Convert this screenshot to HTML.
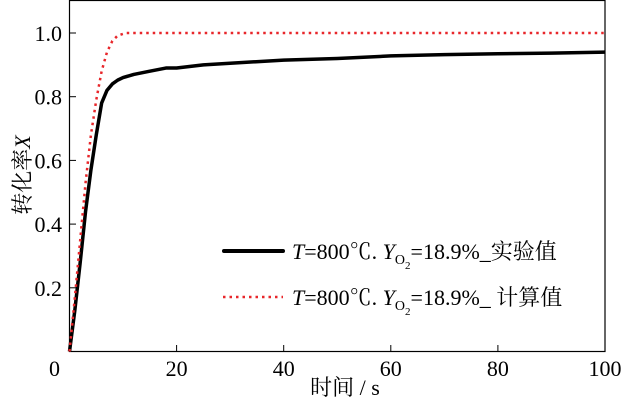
<!DOCTYPE html>
<html><head><meta charset="utf-8"><style>
body{margin:0;background:#fff}
svg, svg text{font-family:"Liberation Serif","Noto Serif CJK SC",serif}
</style></head><body>
<svg width="622" height="402">
<rect x="69.5" y="0.5" width="535.5" height="351" fill="none" stroke="#000" stroke-width="1.2"/>
<g id="ticks"></g>
<g id="series"></g>
<text x="0" y="0" transform="translate(30,175) rotate(-90)" text-anchor="middle" font-size="22" font-family="Liberation Serif, Noto Serif CJK SC, serif">转化率<tspan font-style="italic">X</tspan></text>
<text x="345" y="395" text-anchor="middle" font-size="22" font-family="Liberation Serif, Noto Serif CJK SC, serif">时间 / s</text>
<g font-family="Liberation Serif, Noto Serif CJK SC, serif">
<line x1="224" y1="251" x2="283" y2="251" stroke="#000" stroke-width="4" stroke-linecap="round"/>
<text x="292" y="259" font-size="22"><tspan font-style="italic">T</tspan>=800℃. <tspan font-style="italic">Y</tspan><tspan font-size="14" dy="5">O</tspan><tspan font-size="11" dy="5">2</tspan><tspan dy="-10">=18.9%_实验值</tspan></text>
<line x1="223" y1="297" x2="283" y2="297" stroke="#e8262a" stroke-width="2.5" stroke-dasharray="2.5,4"/>
<text x="292" y="305" font-size="22"><tspan font-style="italic">T</tspan>=800℃. <tspan font-style="italic">Y</tspan><tspan font-size="14" dy="5">O</tspan><tspan font-size="11" dy="5">2</tspan><tspan dy="-10">=18.9%_ 计算值</tspan></text>
</g>
</svg>
<script>
const xTicks=[0,20,40,60,80,100];
const yTicks=[0.2,0.4,0.6,0.8,1.0];
const expT=[0,1,2,3,4,5,6,7,8,9,10,12,15,18,20,25,30,40,50,60,70,80,90,100];
const expX=[0,0.13,0.28,0.44,0.57,0.68,0.78,0.82,0.84,0.852,0.86,0.87,0.88,0.89,0.89,0.9,0.905,0.915,0.92,0.928,0.932,0.935,0.937,0.94];
const calT=[0,1,2,3,4,5,6,7,8,9,10.5,12,100];
const calX=[0,0.17,0.35,0.53,0.68,0.79,0.88,0.94,0.975,0.992,1.0,1.0,1.0];
const NS="http://www.w3.org/2000/svg";
const FF="Liberation Serif, Noto Serif CJK SC, serif";
const sx=v=>69.5+v*5.355, sy=v=>351.5-v*318.5;
const tg=document.getElementById('ticks'), sg=document.getElementById('series');
function mk(tag,attrs,parent){const e=document.createElementNS(NS,tag);for(const k in attrs)e.setAttribute(k,attrs[k]);parent.appendChild(e);return e;}
xTicks.forEach(v=>{
  if(v>0&&v<100){const l=mk('line',{x1:sx(v),x2:sx(v),y1:351.5,y2:345,stroke:'#000'},tg);
  
  }
  const xp=v===0?sx(v)-15:sx(v);
  const t=mk('text',{x:xp,y:376,'text-anchor':'middle','font-size':22,'font-family':FF},tg);t.textContent=v;
  
  
});
yTicks.forEach(v=>{
  const l=mk('line',{x1:69.5,x2:76,y1:sy(v),y2:sy(v),stroke:'#000'},tg);
  
  
  const t=mk('text',{x:62,y:sy(v)+8,'text-anchor':'end','font-size':22,'font-family':FF},tg);t.textContent=v.toFixed(1);
  
  
});
const pts=(T,X)=>T.map((t,i)=>sx(t)+','+sy(X[i])).join(' ');
const e=mk('polyline',{points:pts(expT,expX),fill:'none',stroke:'#000','stroke-width':3.5,'stroke-linejoin':'round'},sg);


const c=mk('polyline',{points:pts(calT,calX),fill:'none',stroke:'#e8262a','stroke-width':2.5,'stroke-dasharray':'2.5,4'},sg);


</script>
</body></html>
